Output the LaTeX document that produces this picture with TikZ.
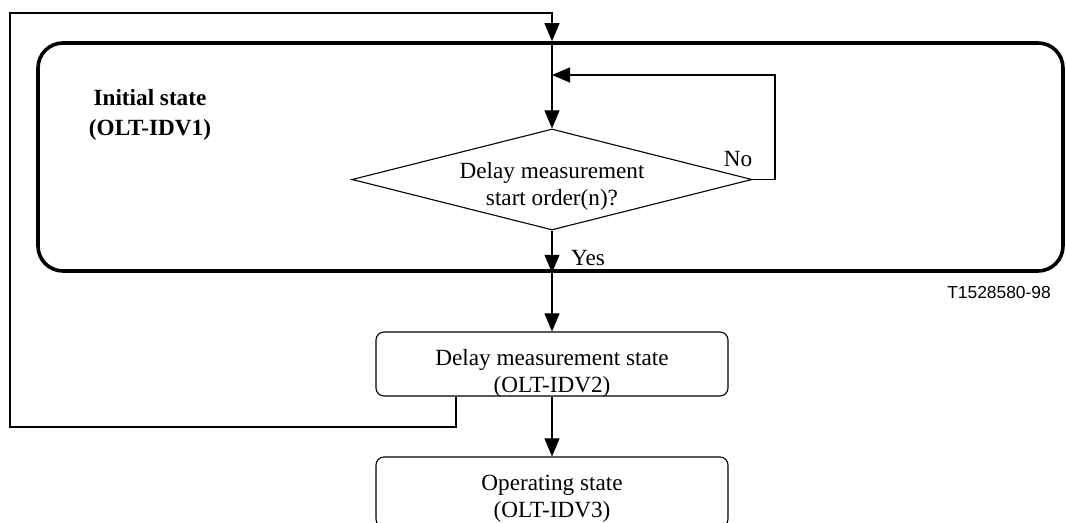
\documentclass[tikz,border=0pt]{standalone}
\usepackage{fontspec}
\setmainfont{Liberation Serif}
\newfontfamily\tagfont{Liberation Sans}
\usetikzlibrary{arrows.meta,calc,positioning,shapes.geometric}

\begin{document}
\begin{tikzpicture}[x=0.5pt, y=-0.5pt, >={Triangle[length=9pt,width=7.5pt]},
  font=\fontsize{11.6pt}{13.5pt}\selectfont, line width=0.55pt,
  bigstate/.style={draw, line width=1.8pt, rounded corners=12.5pt, minimum width=512.5pt, minimum height=114pt, inner sep=0pt},
  state/.style={draw, rounded corners=4pt, minimum width=176pt, minimum height=32pt, inner sep=0pt},
  decision/.style={draw, diamond, aspect=4, inner sep=0pt, minimum width=200pt, minimum height=50.5pt},
  txt/.style={align=center}]
  \clip (0,0) rectangle (1066,523);

  \node[bigstate] (I) at (550.5,157) {};
  \node[txt, font=\fontsize{11.6pt}{15pt}\selectfont\bfseries] (Ilbl) at (150,115) {Initial state\\(OLT-IDV1)};

  \node[decision] (D) at (552,179.5) {};
  \node[txt] (Dtxt) at (552,186) {Delay measurement\\start order(n)?};
  \node[state] (M) at (552,364) {};
  \node[txt] (Mtxt) at (552,373) {Delay measurement state\\(OLT-IDV2)};
  \node[state, minimum height=35pt] (O) at (552,492) {};
  \node[txt] (Otxt) at (552,499) {Operating state\\(OLT-IDV3)};

  \coordinate (Din) at (D.north |- I.north);
  \coordinate (Dout) at (D.south |- I.south);
  \coordinate (Nback) at (D.north |- 0,75);
  \coordinate (Mret) at ($(M.south)+(-96,0)$);

  \draw[->] (Mret) -- (456,427) -- (10,427) -- (10,13) -| (Din);
  \draw[->] (Din) -- (D.north);
  \draw[->] (D.east) -- (775,179.5) |- (Nback);
  \draw[->] (D.south) -- (Dout);
  \draw[->] (Dout) -- (M.north);
  \draw[->] (M.south) -- (O.north);

  \node (no) at (738,159) {No};
  \node (yes) at (588,258) {Yes};
  \node[anchor=east, font=\tagfont\fontsize{8.7pt}{10pt}\selectfont] (tag) at (1058,293) {T1528580-98};
\end{tikzpicture}
\end{document}
